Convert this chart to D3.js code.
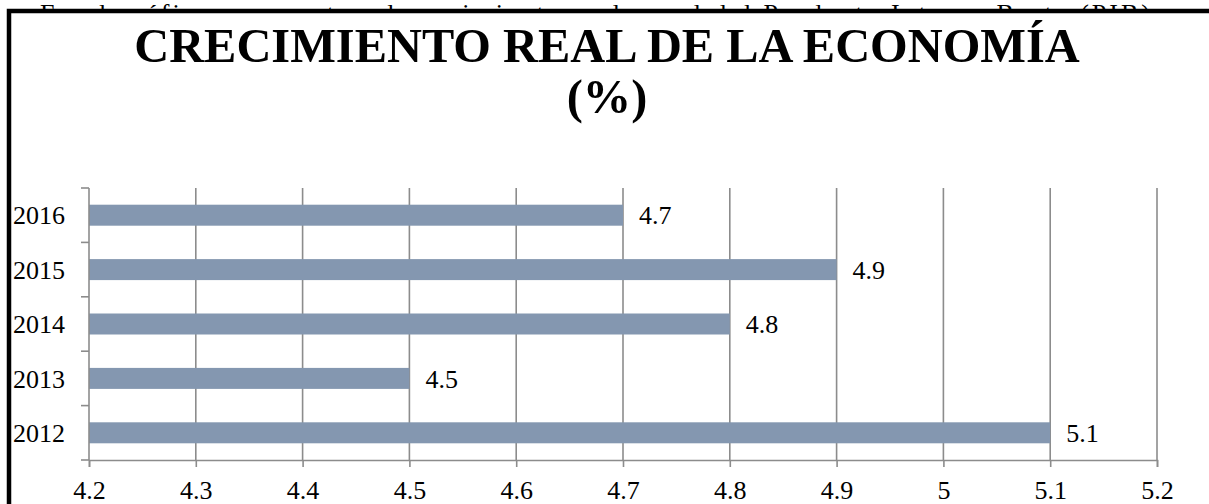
<!DOCTYPE html>
<html>
<head>
<meta charset="utf-8">
<script src="https://cdn.jsdelivr.net/npm/d3@7"></script>
<style>
  html, body { margin: 0; padding: 0; background: #fff; overflow: hidden; }
  text { font-family: "Liberation Serif", "Times New Roman", serif; }
</style>
</head>
<body>
<div id="chart"></div>
<script>
var width  = 1209;
var height = 504;

// data
var years   = ["2012", "2013", "2014", "2015", "2016"];
var growth  = [5.1, 4.5, 4.8, 4.9, 4.7];
var xTicks  = [4.2, 4.3, 4.4, 4.5, 4.6, 4.7, 4.8, 4.9, 5.0, 5.1, 5.2];
var titleLines = ["CRECIMIENTO REAL DE LA ECONOMÍA", "(%)"];
var docLine = "En el gráfico se muestra el crecimiento real anual del Producto Interno Bruto (PIB)";

var serif = '"Liberation Serif", "Times New Roman", serif';

var svg = d3.select('#chart')
  .append('svg')
  .attr('width', width)
  .attr('height', height);

// line of document text sitting behind the chart box
svg.append('text')
  .attr('x', 40)
  .attr('y', 22)
  .attr('textLength', 1110)
  .attr('lengthAdjust', 'spacing')
  .style('font-size', '26px')
  .text(docLine);

// chart box
svg.append('rect')
  .attr('x', 9)
  .attr('y', 11)
  .attr('width', 1300)
  .attr('height', 600)
  .style('fill', '#fff')
  .style('stroke', '#000')
  .style('stroke-width', 4.5);

// title
svg.append('g')
  .selectAll('text')
  .data(titleLines)
  .enter()
  .append('text')
  .attr('x', 607)
  .attr('y', function(d, i) { return 62 + i * 51; })
  .attr('text-anchor', 'middle')
  .style('font-family', serif)
  .style('font-size', '48.4px')
  .style('font-weight', 'bold')
  .text(function(d) { return d; });

var plotLeft = 89, plotRight = 1157, plotTop = 188, plotBottom = 460;

var x = d3.scaleLinear()
  .domain([4.2, 5.2])
  .range([plotLeft, plotRight]);

var y = d3.scaleBand()
  .domain(years.slice().reverse())
  .range([plotTop, plotBottom])
  .paddingInner(0.614)
  .paddingOuter(0.307);

var gridColor = '#8c8c8c';

// vertical gridlines
svg.append('g')
  .selectAll('line')
  .data(xTicks.slice(1))
  .enter()
  .append('line')
  .attr('x1', function(d) { return x(d); })
  .attr('x2', function(d) { return x(d); })
  .attr('y1', plotTop)
  .attr('y2', plotBottom)
  .style('stroke', gridColor)
  .style('stroke-width', 1.6);

// bars
var rows = years.map(function(yr, i) { return { year: yr, value: growth[i] }; });

svg.append('g')
  .selectAll('rect')
  .data(rows)
  .enter()
  .append('rect')
  .attr('x', x(4.2))
  .attr('y', function(d) { return y(d.year); })
  .attr('width', function(d) { return x(d.value) - x(4.2); })
  .attr('height', y.bandwidth())
  .style('fill', '#8497b0');

// value labels
svg.append('g')
  .selectAll('text')
  .data(rows)
  .enter()
  .append('text')
  .attr('x', function(d) { return x(d.value) + 16; })
  .attr('y', function(d) { return y(d.year) + y.bandwidth() / 2; })
  .attr('dy', '.35em')
  .style('font-size', '26px')
  .text(function(d) { return d.value; });

// x axis
var xAxis = d3.axisBottom(x)
  .tickValues(xTicks)
  .tickFormat(d3.format('~g'))
  .tickSize(7)
  .tickPadding(14);

var gx = svg.append('g')
  .attr('transform', 'translate(0,' + plotBottom + ')')
  .call(xAxis);
gx.select('.domain').style('stroke', gridColor).style('stroke-width', 1.6);
gx.selectAll('.tick line').style('stroke', gridColor).style('stroke-width', 1.6);
gx.selectAll('.tick text')
  .style('font-size', '26px')
  .style('font-family', serif)
  .style('fill', '#000');

// y axis: line plus ticks at band boundaries
var gy = svg.append('g');
gy.append('line')
  .attr('x1', plotLeft).attr('x2', plotLeft)
  .attr('y1', plotTop).attr('y2', plotBottom)
  .style('stroke', gridColor)
  .style('stroke-width', 1.6);

var bounds = d3.range(years.length + 1).map(function(i) { return plotTop + i * y.step(); });
gy.selectAll('.ytick')
  .data(bounds)
  .enter()
  .append('line')
  .attr('class', 'ytick')
  .attr('x1', plotLeft - 8).attr('x2', plotLeft)
  .attr('y1', function(d) { return d; })
  .attr('y2', function(d) { return d; })
  .style('stroke', gridColor)
  .style('stroke-width', 1.6);

gy.selectAll('.ylabel')
  .data(years)
  .enter()
  .append('text')
  .attr('class', 'ylabel')
  .attr('x', 65)
  .attr('y', function(d) { return y(d) + y.bandwidth() / 2; })
  .attr('dy', '.35em')
  .attr('text-anchor', 'end')
  .style('font-size', '26px')
  .text(function(d) { return d; });
</script>
</body>
</html>
